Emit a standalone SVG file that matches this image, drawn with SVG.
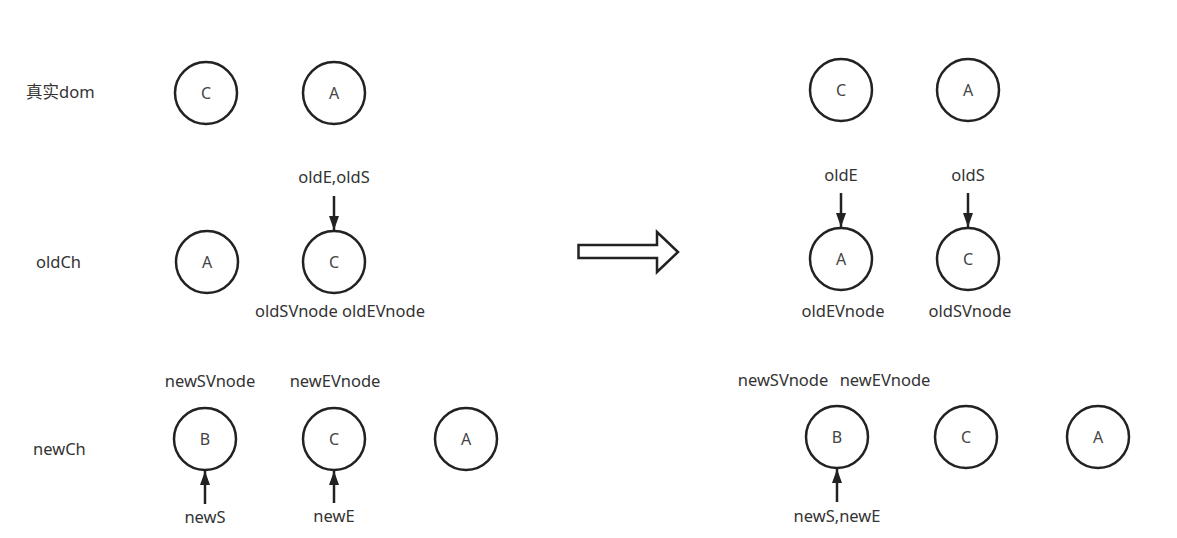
<svg xmlns="http://www.w3.org/2000/svg" width="1177" height="538" viewBox="0 0 1177 538">
<style>
.n circle{fill:#fff;stroke:#222;stroke-width:2.5}
.n text{font-family:"Noto Sans","Noto Sans CJK SC",sans-serif;font-size:16px;fill:#444;text-anchor:middle}
.lbl{font-family:"Noto Sans","Noto Sans CJK SC",sans-serif;font-size:16.5px;fill:#333}
.c{text-anchor:middle}
.e line{stroke:#222;stroke-width:2.5}
</style>
<defs>
<marker id="ah" viewBox="0 0 14 10" refX="14" refY="5" markerWidth="5.6" markerHeight="4" markerUnits="strokeWidth" orient="auto">
<path d="M0,0 L14,5 L0,10 Z" fill="#222"/>
</marker>
</defs>
<rect width="1177" height="538" fill="#fff"/>
<g id="labels">
<text class="lbl" x="26" y="98">真实dom</text>
<text class="lbl" x="36" y="268">oldCh</text>
<text class="lbl" x="33" y="455">newCh</text>
<text class="lbl c" x="334" y="183">oldE,oldS</text>
<text class="lbl c" x="340" y="317">oldSVnode oldEVnode</text>
<text class="lbl c" x="210" y="387">newSVnode</text>
<text class="lbl c" x="335" y="387">newEVnode</text>
<text class="lbl c" x="205" y="523">newS</text>
<text class="lbl c" x="334" y="522">newE</text>
<text class="lbl c" x="841" y="181">oldE</text>
<text class="lbl c" x="968" y="181">oldS</text>
<text class="lbl c" x="843" y="317">oldEVnode</text>
<text class="lbl c" x="970" y="317">oldSVnode</text>
<text class="lbl c" x="783" y="386">newSVnode</text>
<text class="lbl c" x="885" y="386">newEVnode</text>
<text class="lbl c" x="837" y="522">newS,newE</text>
</g>
<g id="dom-C" class="n"><circle cx="206" cy="93" r="31"/><text x="206" y="99">C</text></g>
<g id="dom-A" class="n"><circle cx="334" cy="93" r="31"/><text x="334" y="99">A</text></g>
<g id="old-A" class="n"><circle cx="207" cy="262" r="31"/><text x="207" y="268">A</text></g>
<g id="old-C" class="n"><circle cx="334" cy="262" r="31"/><text x="334" y="268">C</text></g>
<g id="new-B" class="n"><circle cx="205" cy="439" r="31"/><text x="205" y="445">B</text></g>
<g id="new-C" class="n"><circle cx="334" cy="439" r="31"/><text x="334" y="445">C</text></g>
<g id="new-A" class="n"><circle cx="466" cy="439" r="31"/><text x="466" y="445">A</text></g>
<g id="r-dom-C" class="n"><circle cx="841" cy="90" r="31"/><text x="841" y="96">C</text></g>
<g id="r-dom-A" class="n"><circle cx="968" cy="90" r="31"/><text x="968" y="96">A</text></g>
<g id="r-old-A" class="n"><circle cx="841" cy="259" r="31"/><text x="841" y="265">A</text></g>
<g id="r-old-C" class="n"><circle cx="968" cy="259" r="31"/><text x="968" y="265">C</text></g>
<g id="r-new-B" class="n"><circle cx="837" cy="437" r="31"/><text x="837" y="443">B</text></g>
<g id="r-new-C" class="n"><circle cx="966" cy="437" r="31"/><text x="966" y="443">C</text></g>
<g id="r-new-A" class="n"><circle cx="1098" cy="437" r="31"/><text x="1098" y="443">A</text></g>
<g id="transition"><path d="M578.5,245 L657,245 L657,232 L678,252 L657,272 L657,258 L578.5,258 Z" fill="#fff" stroke="#222" stroke-width="2.5" stroke-linejoin="miter"/></g>
<g id="connectors" class="e">
<line x1="334" y1="196" x2="334" y2="230" marker-end="url(#ah)"/>
<line x1="205" y1="504" x2="205" y2="471" marker-end="url(#ah)"/>
<line x1="334" y1="503" x2="334" y2="471" marker-end="url(#ah)"/>
<line x1="841" y1="193" x2="841" y2="227" marker-end="url(#ah)"/>
<line x1="968" y1="193" x2="968" y2="227" marker-end="url(#ah)"/>
<line x1="837" y1="502" x2="837" y2="469" marker-end="url(#ah)"/>
</g>
</svg>
